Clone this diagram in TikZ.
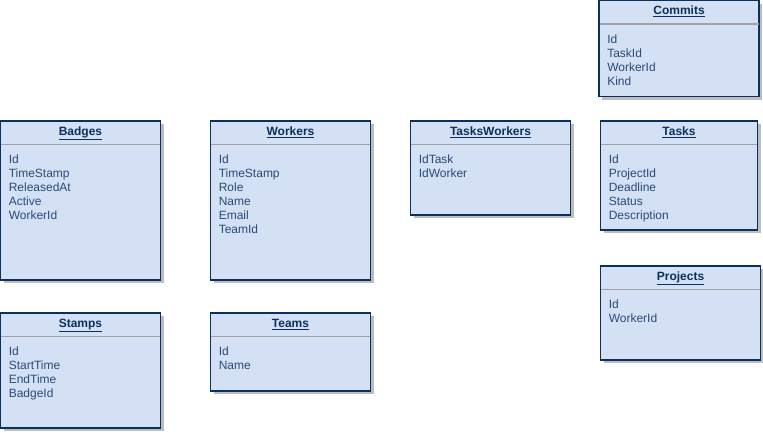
\documentclass[tikz,border=0pt]{standalone}
\usepackage{fontspec}
\setmainfont{Liberation Sans}
\usetikzlibrary{positioning}
\definecolor{boxfill}{HTML}{D4E1F5}
\definecolor{boxline}{HTML}{0B305E}
\definecolor{attrtext}{HTML}{2A4A78}
\definecolor{shadowgray}{HTML}{BDBDBD}
\definecolor{sepgray}{HTML}{A3A3A3}

\begin{document}
\begin{tikzpicture}[x=0.75pt,y=-0.75pt,
    entity/.style={fill=boxfill,draw=boxline,line width=0.8pt},
    shadow/.style={fill=shadowgray},
    sepline/.style={draw=sepgray,line width=0.8pt},
    hdr/.style={anchor=base,inner sep=0pt,text=boxline,font=\fontsize{9}{10.5}\selectfont\bfseries},
    attr/.style={anchor=base west,inner sep=0pt,text=attrtext,font=\fontsize{9}{10.5}\selectfont}]
\useasboundingbox (0,0) rectangle (763,432);
% entities: name / left / top / width / height / attributes
\foreach \nm/\x/\y/\w/\h/\attrs in {
    Commits/599/0.5/160/96/{Id,TaskId,WorkerId,Kind},
    Badges/0.5/121/160/159/{Id,TimeStamp,ReleasedAt,Active,WorkerId},
    Workers/210.5/121/160/159/{Id,TimeStamp,Role,Name,Email,TeamId},
    TasksWorkers/410.5/121/160/94/{IdTask,IdWorker},
    Tasks/600.5/121/157/109/{Id,ProjectId,Deadline,Status,Description},
    Projects/600.5/266/160/94/{Id,WorkerId},
    Stamps/0.5/313/160/115/{Id,StartTime,EndTime,BadgeId},
    Teams/210.5/313/160/78/{Id,Name}}
{
    \fill[shadow](\x+3,\y+3) rectangle ++(\w,\h);
    \draw[entity](\x,\y) rectangle ++(\w,\h);
    \draw[sepline](\x+0.5,\y+23.5)--++(\w-1,0);
    \node[hdr] (\nm) at (\x+\w/2,\y+14) {\underline{\nm}};
    \foreach \a [count=\i] in \attrs
        \node[attr] (\nm-\i) at (\x+8,\y+28.5+14*\i) {\a};
}
\end{tikzpicture}
\end{document}
